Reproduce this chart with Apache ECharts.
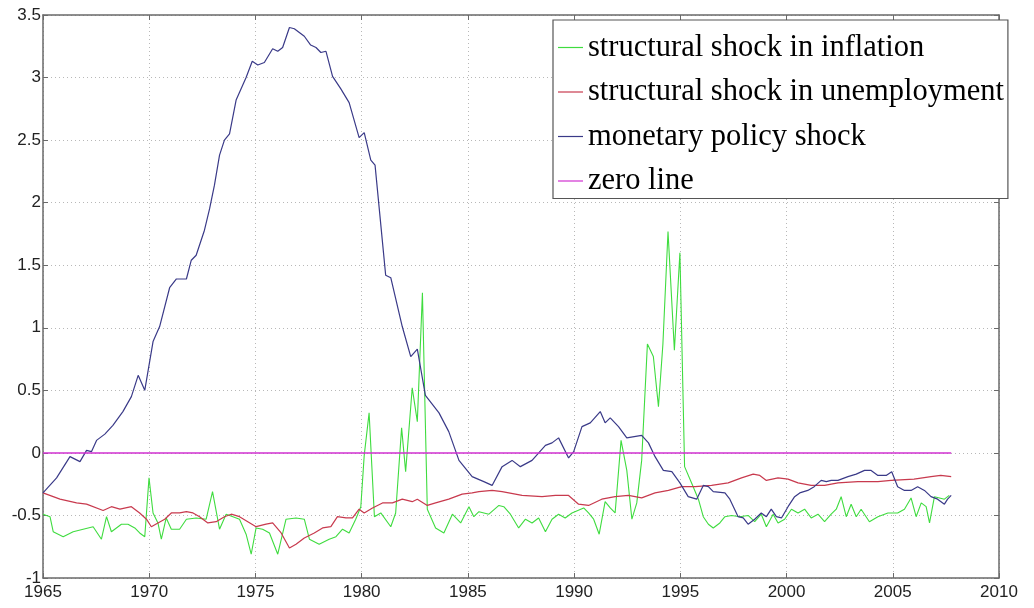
<!DOCTYPE html>
<html>
<head>
<meta charset="utf-8">
<script src="https://cdn.jsdelivr.net/npm/echarts@6/dist/echarts.min.js"></script>
<style>
html,body{margin:0;padding:0;background:#fff;}
#chart{width:1034px;height:608px;}
</style>
</head>
<body>
<div id="chart"></div>
<script>
// ---- data ----
const seriesNames = ['structural shock in inflation', 'structural shock in unemployment', 'monetary policy shock', 'zero line'];
const xTicks = [1965, 1970, 1975, 1980, 1985, 1990, 1995, 2000, 2005, 2010];

const inflationYears = [1965.0,1965.33,1965.48,1965.95,1966.42,1966.89,1967.36,1967.75,1967.99,1968.22,1968.69,1969.0,1969.32,1969.55,1969.79,1969.99,1970.18,1970.41,1970.57,1970.8,1971.04,1971.43,1971.75,1972.21,1972.68,1972.98,1973.31,1973.62,1973.94,1974.25,1974.56,1974.8,1975.03,1975.34,1975.66,1976.05,1976.44,1976.91,1977.3,1977.54,1978.0,1978.47,1978.79,1979.1,1979.41,1979.72,1979.96,1980.12,1980.35,1980.6,1980.9,1981.37,1981.6,1981.88,1982.07,1982.38,1982.62,1982.86,1983.09,1983.48,1983.87,1984.27,1984.66,1985.05,1985.28,1985.52,1985.99,1986.46,1986.69,1987.0,1987.39,1987.71,1988.02,1988.33,1988.65,1988.96,1989.27,1989.58,1989.9,1990.45,1990.68,1990.92,1991.18,1991.46,1991.7,1991.93,1992.21,1992.48,1992.72,1992.95,1993.18,1993.45,1993.73,1993.97,1994.18,1994.42,1994.72,1994.98,1995.2,1995.53,1995.85,1996.08,1996.32,1996.55,1996.86,1997.1,1997.41,1997.8,1998.19,1998.5,1998.81,1999.05,1999.37,1999.6,1999.91,2000.23,2000.54,2000.85,2001.16,2001.48,2001.79,2002.1,2002.34,2002.57,2002.81,2003.04,2003.28,2003.51,2003.9,2004.3,2004.77,2005.23,2005.55,2005.86,2006.1,2006.34,2006.57,2006.73,2006.96,2007.2,2007.43,2007.66];
const inflationValues = [-0.49,-0.51,-0.63,-0.67,-0.63,-0.61,-0.59,-0.69,-0.51,-0.63,-0.57,-0.57,-0.60,-0.64,-0.67,-0.20,-0.48,-0.56,-0.69,-0.52,-0.61,-0.61,-0.53,-0.52,-0.53,-0.31,-0.61,-0.49,-0.51,-0.53,-0.65,-0.81,-0.60,-0.61,-0.64,-0.81,-0.53,-0.52,-0.53,-0.69,-0.73,-0.69,-0.67,-0.61,-0.64,-0.53,-0.43,-0.02,0.32,-0.51,-0.48,-0.59,-0.48,0.20,-0.15,0.52,0.25,1.28,-0.45,-0.60,-0.64,-0.49,-0.56,-0.43,-0.51,-0.47,-0.49,-0.42,-0.43,-0.49,-0.60,-0.53,-0.56,-0.52,-0.63,-0.53,-0.49,-0.52,-0.48,-0.44,-0.48,-0.53,-0.65,-0.39,-0.44,-0.48,0.10,-0.14,-0.53,-0.40,-0.06,0.87,0.77,0.37,0.87,1.77,0.82,1.60,-0.11,-0.24,-0.37,-0.51,-0.57,-0.60,-0.56,-0.51,-0.50,-0.51,-0.50,-0.55,-0.49,-0.59,-0.49,-0.56,-0.53,-0.45,-0.48,-0.45,-0.52,-0.49,-0.55,-0.49,-0.45,-0.35,-0.51,-0.41,-0.51,-0.45,-0.55,-0.51,-0.48,-0.48,-0.45,-0.36,-0.51,-0.40,-0.43,-0.56,-0.35,-0.36,-0.37,-0.34];

const unemploymentYears = [1965.0,1965.8,1966.58,1967.05,1967.83,1968.22,1968.62,1969.16,1969.55,1969.87,1970.1,1970.41,1970.73,1971.04,1971.43,1971.75,1972.06,1972.37,1972.76,1973.15,1973.54,1973.86,1974.25,1974.64,1975.03,1975.5,1975.81,1976.21,1976.6,1976.91,1977.3,1977.77,1978.16,1978.55,1978.86,1979.26,1979.57,1979.88,1980.12,1980.51,1980.98,1981.45,1981.91,1982.38,1982.62,1983.09,1983.48,1984.1,1984.73,1985.2,1985.52,1986.14,1986.61,1987.55,1988.49,1989.12,1989.74,1990.21,1990.68,1991.3,1991.93,1992.56,1993.18,1993.81,1994.44,1995.06,1995.7,1996.47,1997.25,1997.88,1998.43,1998.74,1999.05,1999.6,2000.07,2000.54,2001.16,2001.79,2002.42,2003.36,2004.3,2004.92,2006.0,2006.8,2007.26,2007.75];
const unemploymentValues = [-0.32,-0.37,-0.40,-0.41,-0.46,-0.43,-0.45,-0.43,-0.48,-0.53,-0.59,-0.56,-0.53,-0.48,-0.48,-0.47,-0.48,-0.51,-0.56,-0.55,-0.51,-0.49,-0.51,-0.55,-0.59,-0.57,-0.56,-0.64,-0.76,-0.73,-0.68,-0.64,-0.60,-0.59,-0.51,-0.52,-0.52,-0.45,-0.48,-0.44,-0.40,-0.40,-0.37,-0.39,-0.37,-0.42,-0.40,-0.37,-0.33,-0.32,-0.31,-0.30,-0.31,-0.34,-0.35,-0.34,-0.34,-0.41,-0.42,-0.37,-0.35,-0.34,-0.36,-0.32,-0.30,-0.27,-0.27,-0.26,-0.24,-0.20,-0.17,-0.18,-0.22,-0.20,-0.21,-0.24,-0.26,-0.26,-0.24,-0.23,-0.23,-0.22,-0.21,-0.19,-0.18,-0.19];

const monetaryYears = [1965.0,1965.64,1966.27,1966.74,1967.05,1967.28,1967.52,1967.91,1968.29,1968.76,1969.16,1969.48,1969.79,1970.18,1970.49,1970.96,1971.28,1971.75,1971.98,1972.21,1972.6,1972.84,1973.07,1973.31,1973.54,1973.78,1974.09,1974.56,1974.85,1975.11,1975.42,1975.81,1976.05,1976.28,1976.6,1976.83,1977.3,1977.6,1977.85,1978.08,1978.32,1978.63,1979.02,1979.41,1979.88,1980.12,1980.43,1980.63,1981.13,1981.37,1981.91,1982.31,1982.62,1983.0,1983.64,1984.1,1984.58,1985.2,1985.75,1986.14,1986.61,1987.08,1987.47,1988.02,1988.65,1988.96,1989.27,1989.74,1989.98,1990.37,1990.76,1991.23,1991.46,1991.7,1992.09,1992.48,1993.18,1993.5,1993.81,1994.2,1994.6,1994.98,1995.37,1995.77,1996.08,1996.32,1996.55,1997.1,1997.33,1997.72,1997.96,1998.19,1998.5,1998.81,1999.05,1999.28,1999.52,1999.76,2000.07,2000.38,2000.62,2001.0,2001.3,2001.63,2001.87,2002.1,2002.42,2002.89,2003.28,2003.67,2003.98,2004.3,2004.69,2004.95,2005.23,2005.55,2005.86,2006.17,2006.49,2006.8,2007.11,2007.43,2007.58,2007.75];
const monetaryValues = [-0.32,-0.20,-0.03,-0.07,0.02,0.01,0.10,0.15,0.22,0.33,0.45,0.62,0.50,0.89,1.01,1.32,1.39,1.39,1.54,1.58,1.78,1.95,2.14,2.38,2.50,2.55,2.82,3.00,3.13,3.10,3.12,3.23,3.21,3.24,3.40,3.39,3.33,3.26,3.24,3.20,3.21,3.01,2.91,2.80,2.52,2.56,2.34,2.30,1.42,1.40,1.01,0.77,0.83,0.46,0.32,0.17,-0.06,-0.19,-0.23,-0.26,-0.11,-0.06,-0.11,-0.06,0.06,0.08,0.12,-0.04,0.01,0.21,0.24,0.33,0.24,0.28,0.21,0.12,0.14,0.08,-0.03,-0.14,-0.15,-0.24,-0.35,-0.37,-0.26,-0.27,-0.31,-0.32,-0.37,-0.51,-0.52,-0.57,-0.53,-0.48,-0.51,-0.45,-0.51,-0.52,-0.43,-0.35,-0.32,-0.30,-0.27,-0.22,-0.23,-0.22,-0.22,-0.19,-0.17,-0.14,-0.14,-0.18,-0.18,-0.15,-0.27,-0.30,-0.30,-0.27,-0.30,-0.35,-0.37,-0.41,-0.37,-0.34];

const zeroYears = [1965.0, 2007.75];
const zeroValues = [0, 0];

// ---- chart ----
function pairs(xs, ys) { return xs.map((x, i) => [x, ys[i]]); }

const frameColor = '#6a6a6a';
const chart = echarts.init(document.getElementById('chart'), null, {renderer: 'canvas'});

const makeLine = (name, xs, ys, color, w) => ({
  name, type: 'line', data: pairs(xs, ys), symbol: 'none', showSymbol: false,
  lineStyle: {color, width: w}, itemStyle: {color}, animation: false,
  xAxisIndex: 0, yAxisIndex: 0
});

chart.setOption({
  animation: false,
  backgroundColor: '#ffffff',
  grid: {left: 43, right: 35, top: 15, bottom: 30, containLabel: false},
  legend: {
    orient: 'vertical', left: 553, top: 20,
    data: seriesNames,
    icon: 'rect', itemWidth: 25, itemHeight: 1.2, itemGap: 13.5,
    padding: [12, 4, 2, 5],
    backgroundColor: '#ffffff', borderColor: '#555', borderWidth: 1.2,
    textStyle: {fontFamily: 'Liberation Serif', fontSize: 30.5, color: '#000'},
    selectedMode: false
  },
  xAxis: [{
    type: 'value', min: 1965, max: 2010, interval: 5, position: 'bottom',
    axisLine: {show: true, onZero: false, lineStyle: {color: frameColor, width: 1.5}},
    axisTick: {show: true, inside: true, length: 5, lineStyle: {color: frameColor}},
    axisLabel: {formatter: v => String(v), color: '#222', fontFamily: 'Liberation Sans', fontSize: 17, margin: 6},
    splitLine: {show: true, lineStyle: {color: '#b8b8b8', type: [1, 3], width: 1}}
  }, {
    type: 'value', min: 1965, max: 2010, interval: 5, position: 'top',
    axisLine: {show: true, onZero: false, lineStyle: {color: frameColor, width: 1.5}},
    axisTick: {show: true, inside: true, length: 5, lineStyle: {color: frameColor}},
    axisLabel: {show: false}, splitLine: {show: false}
  }],
  yAxis: [{
    type: 'value', min: -1, max: 3.5, interval: 0.5, position: 'left',
    axisLine: {show: true, onZero: false, lineStyle: {color: frameColor, width: 1.5}},
    axisTick: {show: true, inside: true, length: 5, lineStyle: {color: frameColor}},
    axisLabel: {color: '#222', fontFamily: 'Liberation Sans', fontSize: 17, margin: 2},
    splitLine: {show: true, lineStyle: {color: '#b8b8b8', type: [1, 3], width: 1}}
  }, {
    type: 'value', min: -1, max: 3.5, interval: 0.5, position: 'right',
    axisLine: {show: true, onZero: false, lineStyle: {color: frameColor, width: 1.5}},
    axisTick: {show: true, inside: true, length: 5, lineStyle: {color: frameColor}},
    axisLabel: {show: false}, splitLine: {show: false}
  }],
  series: [
    makeLine(seriesNames[0], inflationYears, inflationValues, '#3fdc3f', 1.1),
    makeLine(seriesNames[1], unemploymentYears, unemploymentValues, '#c83a4e', 1.2),
    makeLine(seriesNames[2], monetaryYears, monetaryValues, '#3a3a88', 1.2),
    makeLine(seriesNames[3], zeroYears, zeroValues, '#d030d0', 1.5)
  ]
});
</script>
</body>
</html>
